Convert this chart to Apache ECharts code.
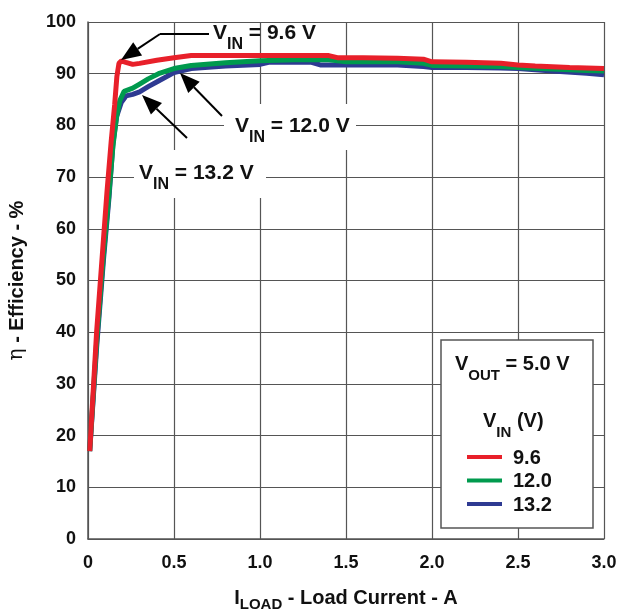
<!DOCTYPE html>
<html>
<head>
<meta charset="utf-8">
<script src="https://cdn.jsdelivr.net/npm/echarts@6/dist/echarts.min.js"></script>
<style>
  html, body { margin: 0; padding: 0; background: #fff; }
  #main { width: 621px; height: 614px; }
</style>
</head>
<body>
<div id="main"></div>
<script>
var xTicks = [0, 0.5, 1.0, 1.5, 2.0, 2.5, 3.0];
var yTicks = [0, 10, 20, 30, 40, 50, 60, 70, 80, 90, 100];

// VIN = 9.6 V
var x96 = [0.01, 0.05, 0.09, 0.11, 0.135, 0.155, 0.168, 0.18, 0.195, 0.22, 0.26, 0.3, 0.4, 0.5, 0.6, 0.8, 1.0, 1.2, 1.4, 1.45, 1.6, 1.8, 1.95, 2.0, 2.2, 2.4, 2.5, 2.6, 2.8, 3.0];
var y96 = [17, 40, 58, 67, 77, 84, 89.5, 92, 92.5, 92.2, 91.8, 92, 92.6, 93.1, 93.5, 93.5, 93.5, 93.5, 93.5, 93.1, 93.1, 93.0, 92.8, 92.3, 92.2, 92.0, 91.7, 91.5, 91.2, 91.0];
// VIN = 12.0 V
var x120 = [0.01, 0.05, 0.09, 0.12, 0.145, 0.165, 0.185, 0.21, 0.26, 0.3, 0.35, 0.41, 0.5, 0.6, 0.8, 1.0, 1.2, 1.4, 1.5, 1.8, 1.95, 2.0, 2.2, 2.4, 2.5, 2.7, 2.9, 3.0];
var y120 = [17, 38, 55, 66, 76, 81.5, 84.8, 86.6, 87.2, 88, 89, 90, 91, 91.6, 92.1, 92.5, 92.7, 92.7, 92.3, 92.3, 92, 91.6, 91.5, 91.4, 91.2, 90.9, 90.6, 90.5];
// VIN = 13.2 V
var x132 = [0.01, 0.05, 0.09, 0.122, 0.145, 0.167, 0.193, 0.221, 0.26, 0.3, 0.35, 0.41, 0.5, 0.6, 0.8, 1.0, 1.05, 1.3, 1.35, 1.8, 1.95, 2.0, 2.2, 2.4, 2.5, 2.7, 2.9, 3.0];
var y132 = [17, 37, 54, 66, 76.5, 81.8, 84.4, 85.7, 86, 86.5, 87.5, 88.6, 90.2, 91, 91.5, 91.8, 92.2, 92.2, 91.7, 91.7, 91.4, 91.2, 91.2, 91.1, 91, 90.5, 90.1, 89.8];

var legendNames = ['9.6', '12.0', '13.2'];

function pairs(xs, ys) {
  return xs.map(function (x, i) { return [x, ys[i]]; });
}

var font = '"Liberation Sans", Arial, sans-serif';
var red = '#e8202a', green = '#009a4e', blue = '#2e3a92';
var gridColor = '#555';

var myChart = echarts.init(document.getElementById('main'));

// text with a subscript, e.g. V_IN
function sub(main, s, rest, size) {
  return {
    text: '{a|' + main + '}{b|' + s + '}{a|' + rest + '}',
    font: 'bold ' + size + 'px ' + font,
    fill: '#111',
    rich: {
      a: { fontSize: size, fontWeight: 'bold', fontFamily: font, fill: '#111', verticalAlign: 'top', lineHeight: size + 9 },
      b: { fontSize: size - 5, fontWeight: 'bold', fontFamily: font, fill: '#111', verticalAlign: 'bottom', lineHeight: size + 9 }
    }
  };
}

function arrow(x1, y1, x2, y2) {
  // line from (x1,y1) to tip (x2,y2) with filled head
  var dx = x2 - x1, dy = y2 - y1, len = Math.sqrt(dx * dx + dy * dy);
  var ux = dx / len, uy = dy / len;
  var hl = 20, hw = 8;
  var bx = x2 - ux * hl, by = y2 - uy * hl;
  return [
    { type: 'line', shape: { x1: x1, y1: y1, x2: bx, y2: by }, style: { stroke: '#000', lineWidth: 2 }, z: 20 },
    { type: 'polygon', shape: { points: [[x2, y2], [bx - uy * hw, by + ux * hw], [bx + uy * hw, by - ux * hw]] }, style: { fill: '#000' }, z: 20 }
  ];
}

var option = {
  backgroundColor: '#fff',
  animation: false,
  grid: { left: 88, right: 17, top: 22, bottom: 75, outerBoundsMode: 'none' },
  xAxis: {
    type: 'value',
    min: xTicks[0], max: xTicks[xTicks.length - 1], interval: 0.5,
    name: '{a|I}{b|LOAD}{a| - Load Current - A}',
    nameLocation: 'middle', nameGap: 49,
    nameTextStyle: {
      rich: {
        a: { fontSize: 20, fontWeight: 'bold', fontFamily: font, color: '#111', verticalAlign: 'top', lineHeight: 24 },
        b: { fontSize: 15, fontWeight: 'bold', fontFamily: font, color: '#111', verticalAlign: 'bottom', lineHeight: 24 }
      }
    },
    axisLine: { lineStyle: { color: gridColor, width: 1.5 } },
    axisTick: { show: false },
    axisLabel: {
      fontSize: 18, fontWeight: 'bold', fontFamily: font, color: '#111', margin: 15,
      formatter: function (v) { return v === 0 ? '0' : v.toFixed(1); }
    },
    splitLine: { lineStyle: { color: gridColor, width: 1.2 } }
  },
  yAxis: {
    type: 'value',
    min: yTicks[0], max: yTicks[yTicks.length - 1], interval: 10,
    name: '{e|\u03b7}{a| - Efficiency - %}',
    nameLocation: 'middle', nameGap: 61, nameRotate: 90,
    nameTextStyle: {
      rich: {
        e: { fontSize: 20, fontFamily: '"DejaVu Serif", serif', color: '#111' },
        a: { fontSize: 20, fontWeight: 'bold', fontFamily: font, color: '#111' }
      }
    },
    axisLine: { show: true, lineStyle: { color: gridColor, width: 1.5 } },
    axisTick: { show: false },
    axisLabel: { fontSize: 18, fontWeight: 'bold', fontFamily: font, color: '#111', margin: 12 },
    splitLine: { lineStyle: { color: gridColor, width: 1.2 } }
  },
  series: [
    { name: legendNames[2], type: 'line', data: pairs(x132, y132), showSymbol: false, lineStyle: { color: blue, width: 5 }, itemStyle: { color: blue }, z: 3 },
    { name: legendNames[1], type: 'line', data: pairs(x120, y120), showSymbol: false, lineStyle: { color: green, width: 5 }, itemStyle: { color: green }, z: 4 },
    { name: legendNames[0], type: 'line', data: pairs(x96, y96), showSymbol: false, lineStyle: { color: red, width: 5 }, itemStyle: { color: red }, z: 5 }
  ]
};
myChart.setOption(option);

// annotations and legend box
var g = [];
// VIN = 9.6 V
g.push({ type: 'line', shape: { x1: 160, y1: 34, x2: 209, y2: 34 }, style: { stroke: '#000', lineWidth: 2 }, z: 20 });
g = g.concat(arrow(160, 34, 121, 60));
g.push({ type: 'text', x: 213, y: 23, style: sub('V', 'IN', ' = 9.6 V', 21), z: 20 });
// VIN = 12.0 V
g.push({ type: 'rect', shape: { x: 224, y: 104, width: 132, height: 46 }, style: { fill: '#fff' }, z: 10 });
g = g.concat(arrow(222, 116, 180, 73));
g.push({ type: 'text', x: 235, y: 116, style: sub('V', 'IN', ' = 12.0 V', 21), z: 20 });
// VIN = 13.2 V
g.push({ type: 'rect', shape: { x: 134, y: 150, width: 132, height: 48 }, style: { fill: '#fff' }, z: 10 });
g = g.concat(arrow(187, 138, 142, 95));
g.push({ type: 'text', x: 139, y: 163, style: sub('V', 'IN', ' = 13.2 V', 21), z: 20 });

// legend box
g.push({ type: 'rect', shape: { x: 441, y: 340, width: 152, height: 188 }, style: { fill: '#fff', stroke: '#555', lineWidth: 1.5 }, z: 10 });
g.push({ type: 'text', x: 455, y: 354, style: sub('V', 'OUT', ' = 5.0 V', 20), z: 20 });
g.push({ type: 'text', x: 483, y: 411, style: sub('V', 'IN', ' (V)', 20), z: 20 });
var legendColors = [red, green, blue];
legendNames.forEach(function (n, i) {
  var y = 457 + i * 23.5;
  g.push({ type: 'line', shape: { x1: 467, y1: y, x2: 502, y2: y }, style: { stroke: legendColors[i], lineWidth: 4 }, z: 20 });
  g.push({ type: 'text', x: 513, y: y + 1, style: { text: n, font: 'bold 20px ' + font, fill: '#111', verticalAlign: 'middle' }, z: 20 });
});

myChart.setOption({ graphic: g });

window.addEventListener('resize', function () {
  myChart.resize();
});
</script>
</body>
</html>
